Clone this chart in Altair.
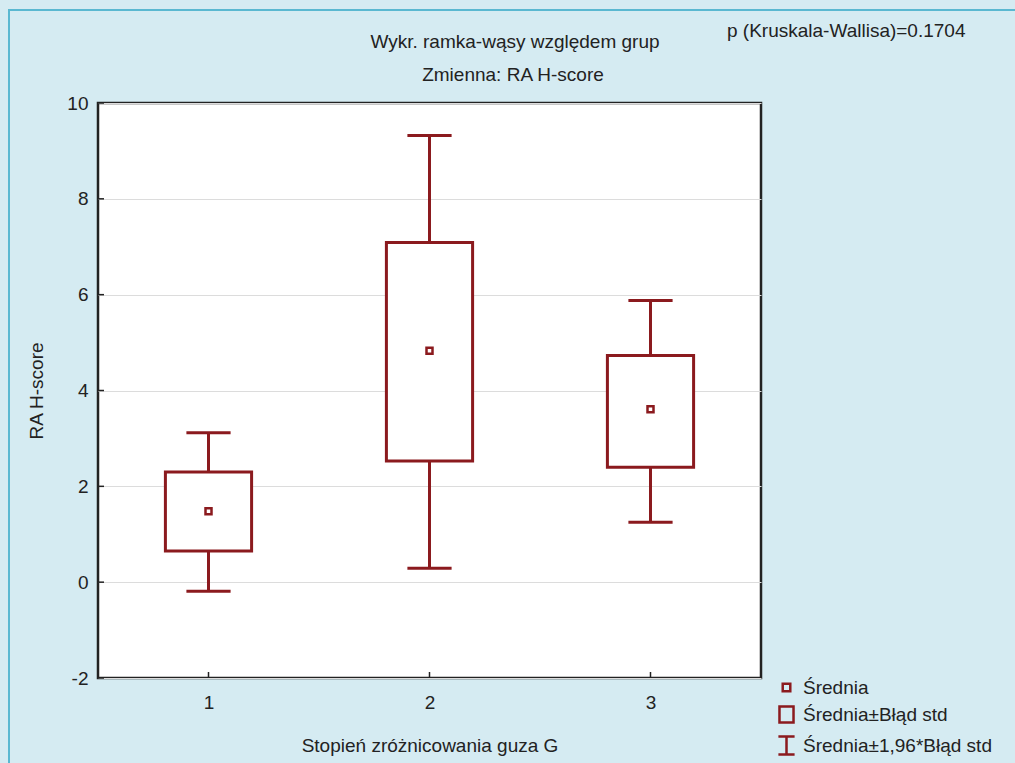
import altair as alt
import pandas as pd

groups = [1, 2, 3]
means = [1.48, 4.83, 3.61]
box_low = [0.65, 2.53, 2.40]
box_high = [2.30, 7.09, 4.73]
whisk_low = [-0.19, 0.29, 1.25]
whisk_high = [3.12, 9.32, 5.88]
y_ticks = [-2, 0, 2, 4, 6, 8, 10]
legend_items = ["Średnia", "Średnia±Błąd std", "Średnia±1,96*Błąd std"]

RED = "#8B1A1E"
BG = "#D5EBF2"
FONT = "Liberation Sans"
FS = 19

df = pd.DataFrame({
    "g": groups, "mean": means, "blo": box_low, "bhi": box_high,
    "wlo": whisk_low, "whi": whisk_high,
})

W, H = 663, 575

xs = alt.Scale(domain=[0.5, 3.5], nice=False, zero=False)
ys = alt.Scale(domain=[-2, 10], nice=False, zero=False)

base = alt.Chart(df)

x_axis = alt.Axis(values=groups, title="Stopień zróżnicowania guza G", grid=False,
                  ticks=False, domain=False, labelFontSize=FS, labelPadding=15,
                  labelExpr="datum.value", labelColor="#222222", titleFontSize=FS,
                  titleFontWeight="normal", titleColor="#222222", titlePadding=24,
                  labelFont=FONT, titleFont=FONT)
y_axis = alt.Axis(values=y_ticks, title="RA H-score", grid=True, gridColor="#DCDCDC",
                  gridWidth=1, ticks=False, domain=False, labelFontSize=FS,
                  labelExpr="datum.value", labelPadding=10, labelColor="#222222",
                  titleFontSize=FS, titleFontWeight="normal", titleColor="#222222",
                  titlePadding=20, labelFont=FONT, titleFont=FONT)

# axes carrier (invisible points)
axes = base.mark_point(opacity=0).encode(
    x=alt.X("g:Q", scale=xs, axis=x_axis),
    y=alt.Y("mean:Q", scale=ys, axis=y_axis),
)

boxes = base.transform_calculate(
    x1="datum.g - 0.195", x2="datum.g + 0.195"
).mark_rect(fill="white", stroke=RED, strokeWidth=3).encode(
    x=alt.X("x1:Q", scale=xs), x2="x2:Q",
    y=alt.Y("blo:Q", scale=ys), y2="bhi:Q",
)

whisk_up = base.mark_rule(color=RED, strokeWidth=3).encode(
    x=alt.X("g:Q", scale=xs), y=alt.Y("bhi:Q", scale=ys), y2="whi:Q")
whisk_dn = base.mark_rule(color=RED, strokeWidth=3).encode(
    x=alt.X("g:Q", scale=xs), y=alt.Y("wlo:Q", scale=ys), y2="blo:Q")

caps_hi = base.transform_calculate(
    c1="datum.g - 0.1", c2="datum.g + 0.1"
).mark_rule(color=RED, strokeWidth=3).encode(
    x=alt.X("c1:Q", scale=xs), x2="c2:Q", y=alt.Y("whi:Q", scale=ys))
caps_lo = base.transform_calculate(
    c1="datum.g - 0.1", c2="datum.g + 0.1"
).mark_rule(color=RED, strokeWidth=3).encode(
    x=alt.X("c1:Q", scale=xs), x2="c2:Q", y=alt.Y("wlo:Q", scale=ys))

mean_pts = base.mark_point(shape="square", filled=False, color=RED, size=36,
                           strokeWidth=2.5, opacity=1).encode(
    x=alt.X("g:Q", scale=xs), y=alt.Y("mean:Q", scale=ys))

# inward tick marks
ytick_df = pd.DataFrame({"v": y_ticks})
ytk = alt.Chart(ytick_df).mark_rule(color="#222222", strokeWidth=1.5).encode(
    y=alt.Y("v:Q", scale=ys), x=alt.value(0), x2=alt.value(6))
xtick_df = pd.DataFrame({"v": groups})
xtk = alt.Chart(xtick_df).mark_rule(color="#222222", strokeWidth=1.5).encode(
    x=alt.X("v:Q", scale=xs), y=alt.value(H), y2=alt.value(H - 6))

# legend
leg_df = pd.DataFrame({"item": legend_items})
paths = [
    "M-0.42,-0.42H0.42V0.42H-0.42Z",
    "M-0.78,-0.9H0.78V0.9H-0.78Z",
    "M-0.9,-1H0.9M0,-1V1M-0.9,1H0.9",
]
legend_layer = alt.Chart(leg_df).mark_point(filled=False, color=RED, strokeWidth=2.5).encode(
    x=alt.value(-2000), y=alt.value(-2000),
    shape=alt.Shape("item:N", scale=alt.Scale(domain=legend_items, range=paths),
                    legend=alt.Legend(title=None, orient="none", legendX=678, legendY=574,
                                      padding=0, symbolSize=324, symbolStrokeWidth=2.5,
                                      symbolStrokeColor=RED, symbolFillColor="transparent",
                                      symbolOpacity=1, labelFontSize=FS, labelFont=FONT,
                                      labelColor="#222222", labelOffset=6, rowPadding=3,
                                      labelLimit=300)),
)

# titles
t_df = pd.DataFrame({"t": ["Wykr. ramka-wąsy względem grup"]})
t1 = alt.Chart(t_df).mark_text(fontSize=FS, font=FONT, color="#222222",
                               align="center", baseline="alphabetic").encode(
    text="t:N", x=alt.value(417), y=alt.value(-55))
t2_df = pd.DataFrame({"t": ["Zmienna:  RA H-score"]})
t2 = alt.Chart(t2_df).mark_text(fontSize=FS, font=FONT, color="#222222",
                                align="center", baseline="alphabetic").encode(
    text="t:N", x=alt.value(415), y=alt.value(-22))
p_df = pd.DataFrame({"t": ["p (Kruskala-Wallisa)=0.1704"]})
t3 = alt.Chart(p_df).mark_text(fontSize=FS, font=FONT, color="#222222",
                               align="left", baseline="alphabetic").encode(
    text="t:N", x=alt.value(629), y=alt.value(-66))

# outer border
b_df = pd.DataFrame({"k": [0]})
border = alt.Chart(b_df).mark_rect(fill=None, stroke="#5AB8D1", strokeWidth=2).encode(
    x=alt.value(-89), x2=alt.value(960), y=alt.value(-93), y2=alt.value(700))

chart = alt.layer(
    border, axes, whisk_up, whisk_dn, caps_hi, caps_lo, boxes, mean_pts,
    ytk, xtk, legend_layer, t1, t2, t3
).properties(
    width=W, height=H, background=BG,
    autosize=alt.AutoSizeParams(type="none"),
    padding={"left": 98, "top": 103, "right": 254, "bottom": 85},
).configure_view(
    fill="white", stroke="#222222", strokeWidth=2.5
)

chart.save("out.html", embed_options={"renderer": "svg", "actions": False})
